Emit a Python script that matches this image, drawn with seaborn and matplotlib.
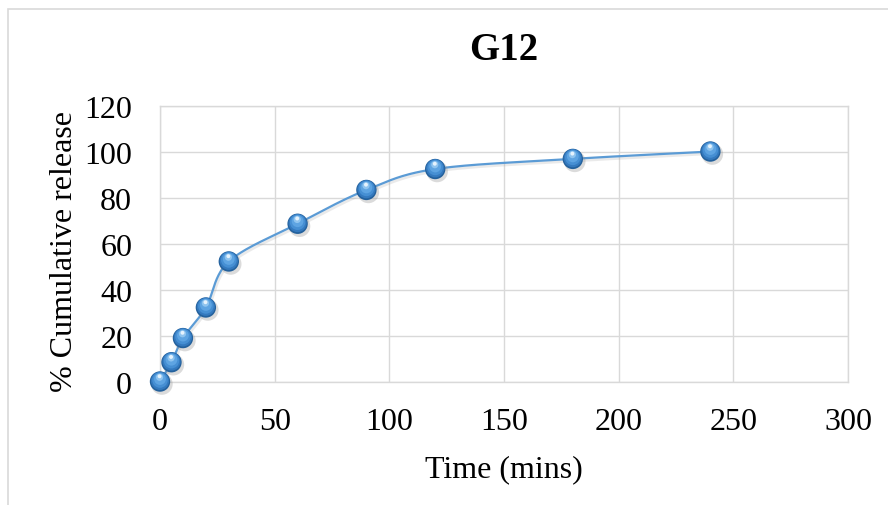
import numpy as np
import pandas as pd
import seaborn as sns
import matplotlib.pyplot as plt
import matplotlib.transforms as mtransforms
from matplotlib.patches import Rectangle

# Dissolution profile for formulation G12
time_mins = [0, 5, 10, 20, 30, 60, 90, 120, 180, 240]
cumulative_release = [0.2, 8.6, 19.1, 32.4, 52.4, 68.8, 83.5, 92.6, 97.0, 100.2]

x_ticks = [0, 50, 100, 150, 200, 250, 300]
y_ticks = [0, 20, 40, 60, 80, 100, 120]

title_text = "G12"
x_label = "Time (mins)"
y_label = "% Cumulative release"

sns.set_theme(style="white")
plt.rcParams["font.family"] = ["Liberation Serif", "DejaVu Serif"]

df = pd.DataFrame({"time": time_mins, "release": cumulative_release})


def smooth_curve(x, y, steps=40):
    """Bezier smoothing through every point (Catmull-Rom style control points)."""
    pts = np.column_stack([x, y]).astype(float)
    padded = np.vstack([pts[0], pts, pts[-1]])
    out = []
    for i in range(len(pts) - 1):
        p0, p1, p2, p3 = padded[i], padded[i + 1], padded[i + 2], padded[i + 3]
        c1 = p1 + (p2 - p0) / 6.0
        c2 = p2 - (p3 - p1) / 6.0
        t = np.linspace(0, 1, steps, endpoint=(i == len(pts) - 2))[:, None]
        seg = ((1 - t) ** 3) * p1 + 3 * ((1 - t) ** 2) * t * c1 + 3 * (1 - t) * t ** 2 * c2 + t ** 3 * p2
        out.append(seg)
    arr = np.vstack(out)
    return arr[:, 0], arr[:, 1]


sx, sy = smooth_curve(df["time"].values, df["release"].values)
curve = pd.DataFrame({"time": sx, "release": sy})

fig = plt.figure(figsize=(8.88, 5.06), dpi=100)
ax = fig.add_axes([160 / 888, 1 - 383 / 506, 688 / 888, 276 / 506])

# Outer chart frame
fig.patches.append(Rectangle((8 / 888, -0.02), 1.02, 1 - 10 / 506 + 0.02,
                             transform=fig.transFigure, fill=False,
                             edgecolor="#D9D9D9", linewidth=1.2, zorder=0))

# Faint shadow under the line
shadow_tr = mtransforms.offset_copy(ax.transData, fig=fig, x=1.0, y=-1.5, units="points")
ax.plot(sx, sy, color="#9a9a9a", alpha=0.2, linewidth=2.0, transform=shadow_tr, zorder=2)

sns.lineplot(data=curve, x="time", y="release", ax=ax, color="#5B9BD5",
             linewidth=1.6, sort=False, estimator=None, zorder=3)

# Shaded spherical markers built from stacked circles
layers = [
    (240, "#8a8a8a", 0.3, 1.4, -1.8),
    (215, "#24619C", 1.0, 0.0, 0.0),
    (172, "#3479BE", 1.0, 0.0, 0.5),
    (125, "#468FD3", 1.0, 0.0, 1.1),
    (72, "#5EA4E2", 1.0, 0.0, 1.8),
    (27, "#8FC4EF", 1.0, -0.3, 3.1),
    (8, "#E6F3FD", 1.0, -0.3, 3.8),
]
for k, (size, col, alpha, dx, dy) in enumerate(layers):
    tr = mtransforms.offset_copy(ax.transData, fig=fig, x=dx, y=dy, units="points")
    sns.scatterplot(data=df, x="time", y="release", ax=ax, s=size, color=col,
                    alpha=alpha, edgecolor="none", linewidth=0, zorder=4 + k,
                    transform=tr, clip_on=False, legend=False)

ax.set_xlim(0, 300)
ax.set_ylim(0, 120)
ax.set_xticks(x_ticks)
ax.set_yticks(y_ticks)
ax.set_xticklabels([str(v) for v in x_ticks])
ax.set_yticklabels([str(v) for v in y_ticks])
ax.grid(True, color="#D9D9D9", linewidth=1.0)
ax.set_axisbelow(True)
for sp in ax.spines.values():
    sp.set_visible(True)
    sp.set_color("#D9D9D9")
    sp.set_linewidth(1.0)
ax.tick_params(axis="both", length=0, labelsize=23, colors="black")
ax.tick_params(axis="x", pad=18)
ax.tick_params(axis="y", pad=20)

ax.set_xlabel(x_label, fontsize=23, color="black", labelpad=13)
ax.set_ylabel(y_label, fontsize=23, color="black")
ax.yaxis.set_label_coords((79 - 160) / 688, (383 - 252) / 276)
ax.set_title(title_text, fontsize=28, fontweight="bold", color="black", pad=34)

fig.savefig("out.png", dpi=100)
